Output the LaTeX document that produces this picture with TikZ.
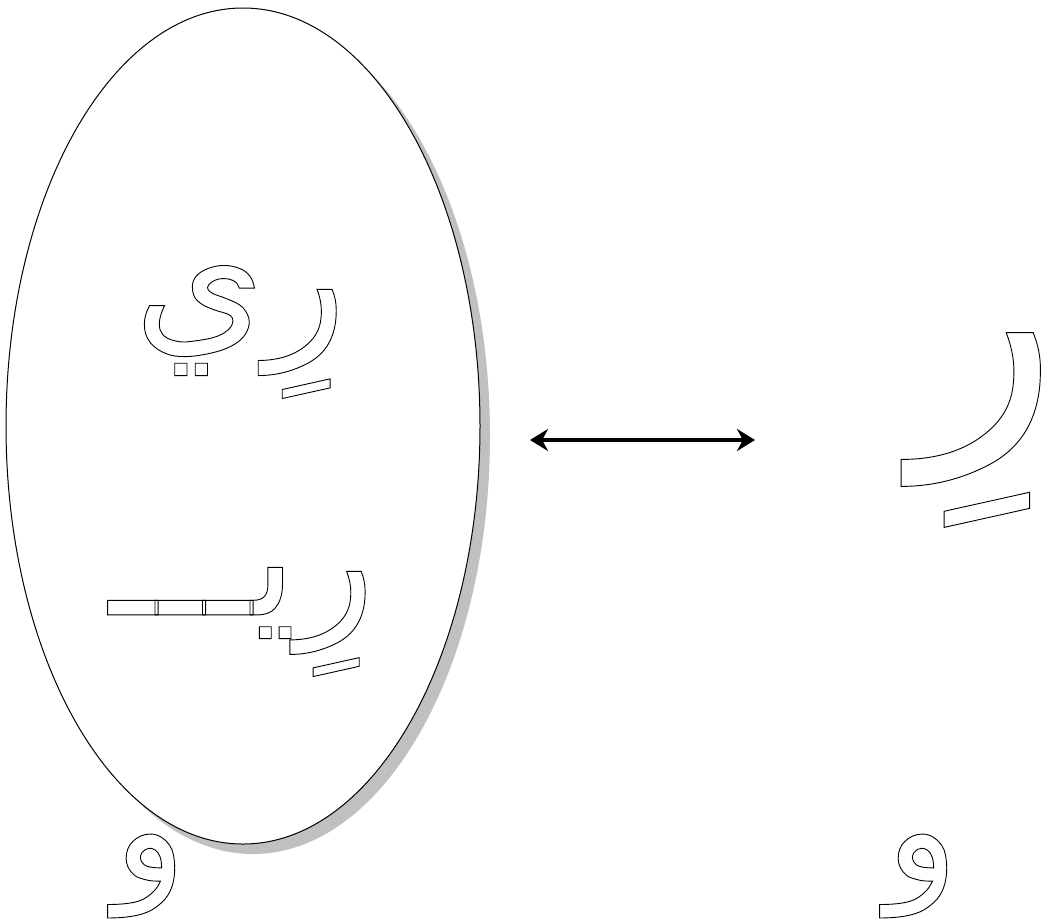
\documentclass[tikz,border=0pt]{standalone}
\usepackage{fontspec}
\usepackage{tikz}
\usetikzlibrary{positioning,arrows.meta,shapes.geometric,shadows}
\TeXXeTstate=1
\newfontfamily\arabicfont[Script=Arabic]{DejaVu Sans}
\definecolor{shadowgray}{HTML}{C0C0C0}
% hollow glyphs: stroke only
\newcommand{\hollow}[1]{\special{pdf:literal direct 1 Tr 0.9 w}#1\special{pdf:literal direct 0 Tr}}
\newcommand{\artext}[2]{\fontsize{#1}{#1}\arabicfont\hollow{\beginR #2\endR}}

\begin{document}
\begin{tikzpicture}[
      x=1pt, y=-1pt,
      glyph/.style={inner sep=0pt, outer sep=0pt},
      oval/.style={ellipse, draw, fill=white, line width=1pt,
        minimum width=474pt, minimum height=836pt,
        drop shadow={shadow xshift=10pt, shadow yshift=-10pt, fill=shadowgray, opacity=1}},
      dblarrow/.style={line width=4pt, {Stealth[length=18pt,width=22pt]}-{Stealth[length=18pt,width=22pt]}}
    ]
      \useasboundingbox (0,0) rectangle (1062,922);
      \node[oval] (bag) at (243,426) {};
      \node[glyph] (riya) at (240,332) {\artext{168}{رِي}};
      \node[glyph] (riyat) at (242,622) {\artext{162}{رِيـــ}};
      \node[glyph] (ri) at (986,430) {\artext{300}{رِ}};
      \node[glyph] (wawl) at (150,876) {\artext{150}{و}};
      \node[glyph] (wawr) at (922,876) {\artext{150}{و}};
      \coordinate (from) at (530,440);
      \coordinate (to) at (755,440);
      \draw[dblarrow] (from) -- (to);
    \end{tikzpicture}
\end{document}
